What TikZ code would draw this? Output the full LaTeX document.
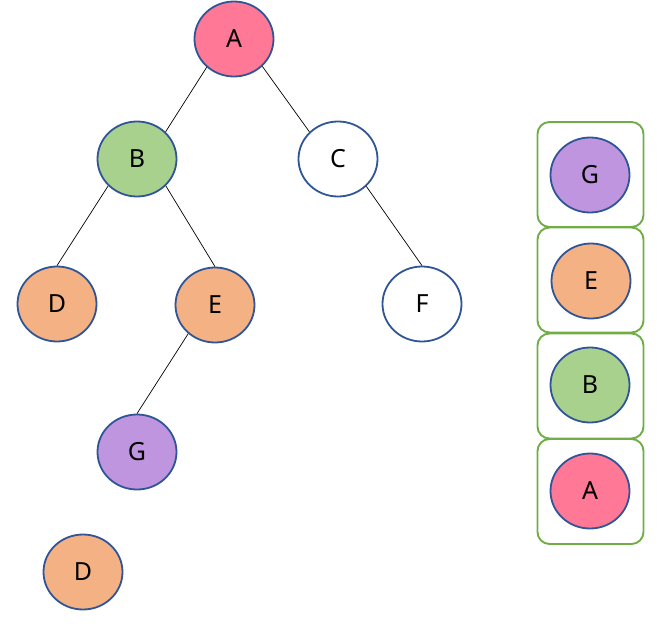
\documentclass[tikz,border=0pt]{standalone}
\usepackage{fontspec}
\setmainfont{Noto Sans}
\usetikzlibrary{shapes.geometric}
\definecolor{nodeblue}{HTML}{2F5597}
\definecolor{pinkA}{HTML}{FF7896}
\definecolor{greenB}{HTML}{A9D18E}
\definecolor{orangeE}{HTML}{F4B183}
\definecolor{purpleG}{HTML}{C095E0}
\definecolor{boxgreen}{HTML}{70AD47}
\begin{document}
\begin{tikzpicture}[x=1pt,y=-1pt,
  tnode/.style={ellipse,draw=nodeblue,line width=1.8pt,minimum width=79pt,minimum height=75pt,inner sep=0pt,
    font=\fontsize{25}{30}\selectfont},
  slot/.style={draw=boxgreen,line width=1.9pt,rounded corners=12pt,minimum width=106pt,minimum height=105pt,inner sep=0pt},
  edge/.style={draw=black,line width=0.7pt}]
\useasboundingbox (0,0) rectangle (664,642);
% tree
\node[tnode,fill=pinkA] (A) at (234,39) {A};
\node[tnode,fill=greenB] (B) at (137,159) {B};
\node[tnode,fill=white] (C) at (338,159) {C};
\node[tnode,fill=orangeE] (D) at (57,304) {D};
\node[tnode,fill=orangeE] (E) at (215,305) {E};
\node[tnode,fill=white] (F) at (422,304) {F};
\node[tnode,fill=purpleG] (G) at (137,452) {G};
\node[tnode,fill=orangeE] (D2) at (83,572) {D};
\draw[edge] (A.-134) -- (B.north east);
\draw[edge] (A.-44) -- (C.north west);
\draw[edge] (B.-137) -- (D.north);
\draw[edge] (B.-43) -- (E.north);
\draw[edge] (C.-44) -- (F.north);
\draw[edge] (E.-133) -- (G.north);
% stack
\node[slot] (s1) at (590.5,174.5) {};
\node[slot] (s2) at (590.5,280) {};
\node[slot] (s3) at (590.5,386) {};
\node[slot] (s4) at (590.5,491.5) {};
\node[tnode,fill=purpleG] (sG) at (590,175) {G};
\node[tnode,fill=orangeE] (sE) at (591,281) {E};
\node[tnode,fill=greenB] (sB) at (590,385) {B};
\node[tnode,fill=pinkA] (sA) at (590,491) {A};
\end{tikzpicture}
\end{document}
